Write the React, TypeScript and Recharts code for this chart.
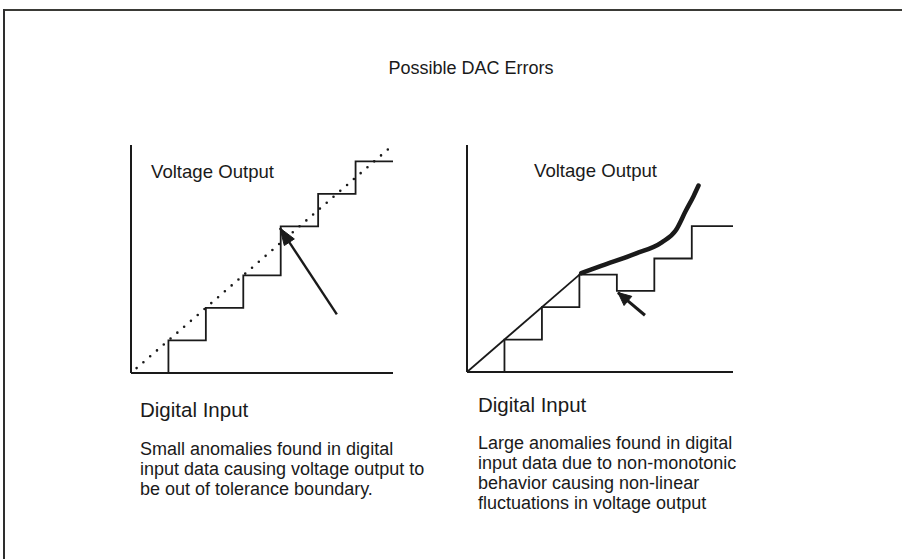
import React from "react";
import { LineChart, Line, XAxis, YAxis, ReferenceLine } from "recharts";

// --- left panel: staircase with one oversized step ---
const leftSteps = [
  { x: 0, y: 0 },
  { x: 1, y: 1 },
  { x: 2, y: 2 },
  { x: 3, y: 3 },
  { x: 4, y: 4.5 },
  { x: 5, y: 5.5 },
  { x: 6, y: 6.5 },
  { x: 7, y: 6.5 },
];
const leftIdeal = [
  { x: 0.15, y: 0.15 },
  { x: 6.95, y: 6.95 },
];
const leftArrow = [
  { x: 5.5, y: 1.8 },
  { x: 3.98, y: 4.45 },
];

// --- right panel: non-monotonic staircase ---
const rightSteps = [
  { x: 0, y: 0 },
  { x: 1, y: 1 },
  { x: 2, y: 2 },
  { x: 3, y: 3 },
  { x: 4, y: 2.5 },
  { x: 5, y: 3.5 },
  { x: 6, y: 4.5 },
  { x: 7.1, y: 4.5 },
];
const rightIdeal = [
  { x: 0, y: 0 },
  { x: 3.05, y: 3.05 },
];
const rightCurve = [
  { x: 3.05, y: 3.05 },
  { x: 3.6, y: 3.28 },
  { x: 4.5, y: 3.65 },
  { x: 5.2, y: 4.0 },
  { x: 5.57, y: 4.36 },
  { x: 5.84, y: 4.97 },
  { x: 6.05, y: 5.43 },
  { x: 6.18, y: 5.75 },
];
const rightArrow = [
  { x: 4.75, y: 1.75 },
  { x: 4.03, y: 2.45 },
];

const title = "Possible DAC Errors";
const yLabel = "Voltage Output";
const xLabel = "Digital Input";
const leftNote = [
  "Small anomalies found in digital",
  "input data causing voltage output to",
  "be out of tolerance boundary.",
];
const rightNote = [
  "Large anomalies found in digital",
  "input data due to non-monotonic",
  "behavior causing non-linear",
  "fluctuations in voltage output",
];

const FONT = '"Liberation Sans", Arial, Helvetica, sans-serif';
const INK = "#1a1a1a";

// filled arrow head drawn on the last point of a two-point line
function arrowHead(size: number, half: number) {
  return (props: any) => {
    const { cx, cy, index, points } = props;
    if (!points || index !== points.length - 1) return <g key={`d-${index}`} />;
    const prev = points[index - 1];
    const dx = cx - prev.x;
    const dy = cy - prev.y;
    const len = Math.hypot(dx, dy) || 1;
    const ux = dx / len;
    const uy = dy / len;
    const bx = cx - ux * size;
    const by = cy - uy * size;
    const pts = [
      [cx, cy],
      [bx - uy * half, by + ux * half],
      [bx + uy * half, by - ux * half],
    ]
      .map((p) => p.join(","))
      .join(" ");
    return <polygon key={`d-${index}`} points={pts} fill={INK} stroke={INK} strokeWidth={1} />;
  };
}

function Panel({
  left,
  top,
  width,
  height,
  xMax,
  children,
}: {
  left: number;
  top: number;
  width: number;
  height: number;
  xMax: number;
  children: React.ReactNode;
}) {
  return (
    <div style={{ position: "absolute", left, top }}>
      <LineChart width={width} height={height} margin={{ top: 10, right: 10, bottom: 10, left: 10 }}>
        <XAxis type="number" dataKey="x" domain={[0, xMax]} hide allowDataOverflow />
        <YAxis type="number" dataKey="y" domain={[0, 7]} hide allowDataOverflow />
        <ReferenceLine x={0} stroke={INK} strokeWidth={2} />
        <ReferenceLine y={0} stroke={INK} strokeWidth={2} />
        {children}
      </LineChart>
    </div>
  );
}

function Text({ x, y, size, children }: { x: number; y: number; size: number; children: React.ReactNode }) {
  return (
    <div
      style={{
        position: "absolute",
        left: x,
        top: y,
        fontSize: size,
        fontFamily: FONT,
        color: INK,
        whiteSpace: "nowrap",
        lineHeight: "20px",
      }}
    >
      {children}
    </div>
  );
}

export default function App() {
  return (
    <div
      style={{
        position: "absolute",
        left: 0,
        top: 0,
        width: 902,
        height: 559,
        background: "#fff",
        overflow: "hidden",
      }}
    >
      <style>{"html,body{margin:0;overflow:hidden;}"}</style>
      {/* scanned frame edges */}
      <div style={{ position: "absolute", left: 3, top: 9, width: 899, height: 2, background: "#3a3a36" }} />
      <div style={{ position: "absolute", left: 3, top: 9, width: 2, height: 550, background: "#2e2e2e" }} />

      <div
        style={{
          position: "absolute",
          left: 0,
          width: 942,
          top: 58,
          lineHeight: "20px",
          textAlign: "center",
          fontSize: 18,
          fontFamily: FONT,
          color: INK,
        }}
      >
        {title}
      </div>

      <Panel left={121} top={135} width={282} height={248} xMax={7}>
        <Line
          data={leftIdeal}
          dataKey="y"
          type="linear"
          stroke={INK}
          strokeWidth={2.6}
          strokeDasharray="0 9"
          strokeLinecap="round"
          dot={false}
          isAnimationActive={false}
        />
        <Line
          data={leftSteps}
          dataKey="y"
          type="stepAfter"
          stroke={INK}
          strokeWidth={1.8}
          dot={false}
          isAnimationActive={false}
        />
        <Line
          data={leftArrow}
          dataKey="y"
          type="linear"
          stroke={INK}
          strokeWidth={2.4}
          dot={arrowHead(17, 6)}
          isAnimationActive={false}
        />
      </Panel>

      <Panel left={457} top={135} width={286} height={247} xMax={7.1}>
        <Line
          data={rightIdeal}
          dataKey="y"
          type="linear"
          stroke={INK}
          strokeWidth={1.8}
          dot={false}
          isAnimationActive={false}
        />
        <Line
          data={rightSteps}
          dataKey="y"
          type="stepAfter"
          stroke={INK}
          strokeWidth={1.8}
          dot={false}
          isAnimationActive={false}
        />
        <Line
          data={rightCurve}
          dataKey="y"
          type="monotone"
          stroke={INK}
          strokeWidth={4.5}
          strokeLinecap="round"
          dot={false}
          isAnimationActive={false}
        />
        <Line
          data={rightArrow}
          dataKey="y"
          type="linear"
          stroke={INK}
          strokeWidth={3}
          dot={arrowHead(13, 6)}
          isAnimationActive={false}
        />
      </Panel>

      <Text x={151} y={162} size={18.6}>{yLabel}</Text>
      <Text x={534} y={161} size={18.6}>{yLabel}</Text>

      <Text x={140} y={400} size={20.5}>{xLabel}</Text>
      <Text x={478} y={395} size={20.5}>{xLabel}</Text>

      <Text x={140} y={439} size={18}>
        {leftNote.map((l) => (
          <div key={l}>{l}</div>
        ))}
      </Text>
      <Text x={478} y={433} size={18}>
        {rightNote.map((l) => (
          <div key={l}>{l}</div>
        ))}
      </Text>
    </div>
  );
}
